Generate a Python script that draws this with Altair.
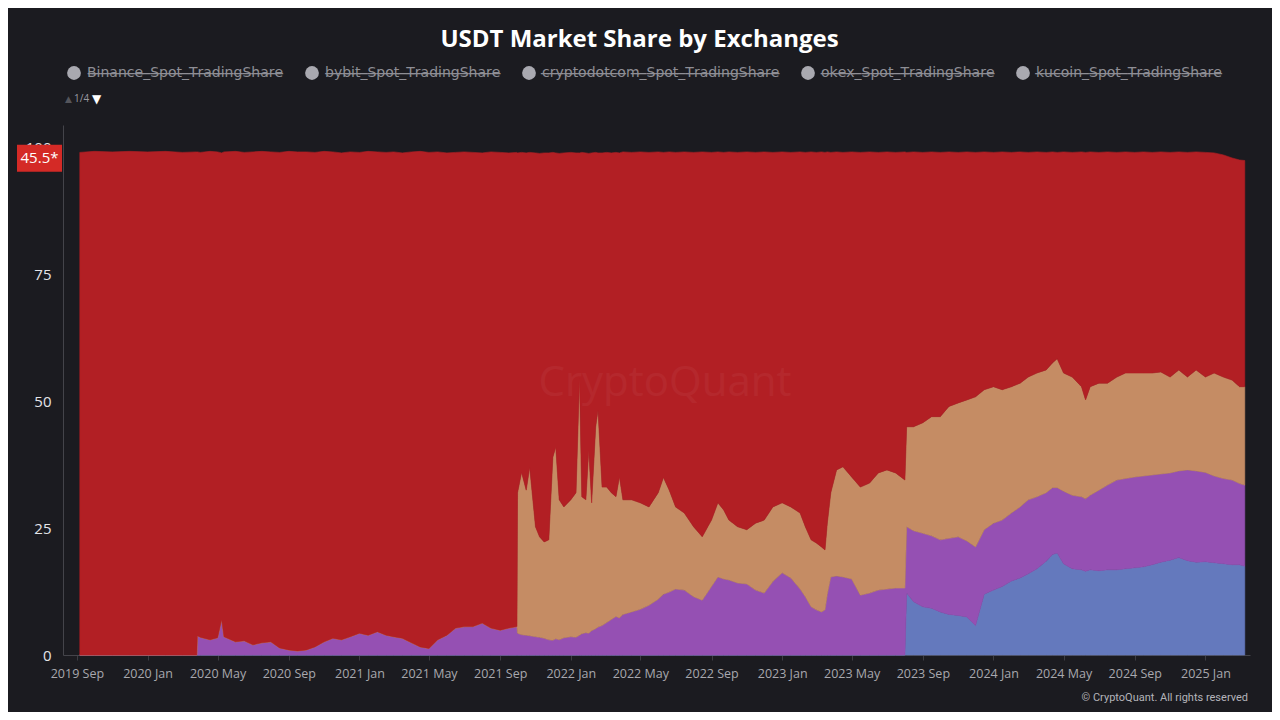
import altair as alt
import pandas as pd

# ---- data (stack boundaries, % share) ----
dates = [
    # only Binance (red)
    "2019-09-06", "2019-10-01", "2019-11-01", "2019-12-01", "2020-01-01", "2020-02-01", "2020-03-01", "2020-03-26",
    # purple layer appears
    "2020-03-27", "2020-04-01", "2020-04-18", "2020-05-01", "2020-05-08", "2020-05-12", "2020-06-01", "2020-06-16",
    "2020-07-01", "2020-07-16", "2020-08-01", "2020-08-16", "2020-09-01", "2020-09-16", "2020-10-01", "2020-10-16",
    "2020-11-01", "2020-11-16", "2020-12-01", "2020-12-16",
    "2021-01-01", "2021-01-16", "2021-02-01", "2021-02-16", "2021-03-01", "2021-03-16", "2021-04-01", "2021-04-16",
    "2021-05-01", "2021-05-16", "2021-06-01", "2021-06-16", "2021-07-01", "2021-07-16", "2021-08-01", "2021-08-16",
    "2021-09-01", "2021-09-16", "2021-09-30",
    # tan layer appears
    "2021-10-01", "2021-10-08", "2021-10-16", "2021-10-22", "2021-11-01", "2021-11-08", "2021-11-16", "2021-11-24",
    "2021-12-01", "2021-12-06", "2021-12-12", "2021-12-20",
    "2022-01-01", "2022-01-10", "2022-01-16", "2022-01-20", "2022-01-27", "2022-02-01", "2022-02-06", "2022-02-13",
    "2022-02-17", "2022-02-24", "2022-03-04", "2022-03-12", "2022-03-20", "2022-03-26", "2022-04-01", "2022-04-16",
    "2022-05-01", "2022-05-16", "2022-06-01", "2022-06-10", "2022-06-20", "2022-07-01", "2022-07-16", "2022-08-01",
    "2022-08-16", "2022-09-01", "2022-09-12", "2022-09-22", "2022-10-01", "2022-10-16", "2022-11-01", "2022-11-16",
    "2022-12-01", "2022-12-16",
    "2023-01-01", "2023-01-16", "2023-02-01", "2023-02-10", "2023-02-20", "2023-03-01", "2023-03-10", "2023-03-16",
    "2023-03-20", "2023-03-26", "2023-04-05", "2023-04-16", "2023-05-01", "2023-05-16", "2023-06-01", "2023-06-16",
    "2023-07-01", "2023-07-16", "2023-08-01",
    # blue layer appears
    "2023-08-04", "2023-08-16", "2023-09-01", "2023-09-16", "2023-10-01", "2023-10-16", "2023-11-01", "2023-11-16",
    "2023-12-01", "2023-12-16",
    "2024-01-01", "2024-01-16", "2024-02-01", "2024-02-16", "2024-03-01", "2024-03-16", "2024-04-01", "2024-04-12",
    "2024-04-20", "2024-05-01", "2024-05-16", "2024-06-01", "2024-06-08", "2024-06-16", "2024-07-01", "2024-07-16",
    "2024-08-01", "2024-08-16", "2024-09-01", "2024-09-16", "2024-10-01", "2024-10-16", "2024-11-01", "2024-11-16",
    "2024-12-01", "2024-12-16",
    "2025-01-01", "2025-01-16", "2025-02-01", "2025-02-16", "2025-03-01", "2025-03-10",
]

# top of the whole stack
total_top = [
    99.1, 99.3, 99.2, 99.3, 99.2, 99.3, 99.1, 99.2,
    99.2, 99.1, 99.3, 99.2, 99.0, 99.2, 99.3, 99.1, 99.2, 99.3,
    99.2, 99.1, 99.3, 99.2, 99.2, 99.1, 99.3, 99.2, 99.0, 99.2,
    99.1, 99.3, 99.2, 99.1, 99.2, 99.0, 99.2, 99.3, 99.1, 99.2,
    99.0, 99.1, 99.2, 99.1, 99.0, 99.2, 99.1, 99.0, 99.1,
    99.0, 99.1, 99.0, 99.1, 99.0, 98.9, 99.0, 99.0, 99.1, 99.0, 98.9, 99.0,
    99.1, 99.0, 99.0, 99.1, 99.0, 98.9, 99.0, 99.1, 99.0, 99.0, 99.1, 99.0,
    99.1, 99.0, 99.2, 99.1, 99.2, 99.1, 99.2, 99.1, 99.2, 99.1, 99.2, 99.1,
    99.2, 99.1, 99.2, 99.1, 99.2, 99.1, 99.2, 99.1, 99.2, 99.1,
    99.2, 99.1, 99.2, 99.1, 99.2, 99.1, 99.2, 99.1, 99.2, 99.1, 99.2, 99.1,
    99.2, 99.1, 99.2, 99.1, 99.2, 99.1, 99.2,
    99.1, 99.2, 99.1, 99.2, 99.1, 99.2, 99.1, 99.2, 99.1, 99.2,
    99.1, 99.2, 99.1, 99.2, 99.1, 99.2, 99.1, 99.2, 99.1, 99.2, 99.1, 99.2,
    99.1, 99.2, 99.1, 99.2, 99.1, 99.2, 99.1, 99.2, 99.1, 99.2, 99.1, 99.2,
    99.1, 99.2,
    99.1, 99.0, 98.6, 98.0, 97.6, 97.5,
]

# top of the purple layer (from 2020-03-27)
purple_top = [
    3.8, 3.5, 3.0, 3.4, 7.0, 3.6, 2.6, 2.8, 2.0, 2.4,
    2.6, 1.4, 1.0, 0.8, 1.0, 1.6, 2.6, 3.3, 3.0, 3.6,
    4.3, 3.9, 4.6, 3.9, 3.6, 3.3, 2.4, 1.6, 1.3, 3.0,
    3.9, 5.3, 5.6, 5.6, 6.3, 5.3, 4.9, 5.3, 5.6,
    4.3, 4.0, 3.9, 3.8, 3.6, 3.5, 3.3, 3.0, 2.9, 3.2, 3.0, 3.4,
    3.6, 3.5, 3.9, 4.2, 4.4, 4.3, 4.8, 5.2, 5.5, 5.8, 6.4, 7.0,
    7.6, 7.3, 8.0, 8.5, 9.0, 9.8, 11.0, 12.0, 12.4, 13.0, 12.8, 11.5,
    10.8, 13.5, 15.4, 15.0, 14.8, 14.2, 14.0, 12.8, 12.2, 14.5,
    16.2, 15.2, 13.0, 11.5, 9.5, 8.9, 8.5, 8.9, 12.0, 15.4, 15.6, 15.4,
    15.0, 11.8, 12.2, 12.8, 13.0, 13.2, 13.2,
    25.3, 24.5, 24.0, 23.5, 22.7, 23.0, 23.3, 22.5, 21.3, 24.7,
    26.0, 26.6, 28.0, 29.2, 30.6, 31.2, 32.0, 33.0, 33.0, 32.3, 31.5, 31.2,
    30.8, 31.5, 32.5, 33.5, 34.5, 34.8, 35.1, 35.3, 35.5, 35.7, 35.9, 36.3,
    36.5, 36.3,
    36.0, 35.3, 34.8, 34.5, 33.8, 33.5,
]

# top of the tan layer (from 2021-10-01)
tan_top = [
    32.0, 36.0, 32.5, 37.0, 25.3, 23.3, 22.3, 22.7, 39.0, 41.0, 30.6, 29.2,
    30.6, 32.0, 54.6, 31.2, 30.6, 40.4, 30.0, 45.0, 48.3, 33.1, 33.1, 32.0,
    31.2, 35.1, 30.6, 30.6, 30.0, 29.2, 32.0, 35.0, 32.5, 29.2, 28.0, 25.3,
    23.3, 26.6, 30.0, 28.6, 26.6, 25.3, 24.7, 26.0, 26.6, 29.2,
    30.0, 29.2, 28.0, 25.3, 22.7, 22.1, 21.3, 20.7, 26.0, 32.0, 36.5, 37.1,
    35.1, 33.1, 33.9, 35.9, 36.5, 35.9, 34.5,
    45.0, 45.0, 45.8, 47.0, 47.0, 49.0, 49.7, 50.3, 50.9, 52.3,
    52.9, 52.3, 52.9, 53.6, 54.8, 55.6, 56.2, 57.6, 58.4, 55.6, 54.8, 52.9,
    50.3, 52.9, 53.6, 53.6, 54.8, 55.6, 55.6, 55.6, 55.6, 55.8, 54.8, 56.2,
    54.8, 56.2,
    54.8, 55.6, 54.8, 54.2, 52.9, 52.9,
]

# top of the blue layer (from 2023-08-04)
blue_top = [
    12.2, 10.5, 9.5, 9.2, 8.5, 8.0, 7.8, 7.5, 5.8, 12.0,
    12.8, 13.5, 14.6, 15.2, 16.0, 17.0, 18.5, 19.8, 20.1, 18.0, 17.0, 16.8,
    16.5, 16.8, 16.6, 16.8, 16.8, 17.0, 17.2, 17.4, 17.8, 18.3, 18.7, 19.2,
    18.6, 18.3,
    18.4, 18.2, 18.0, 17.8, 17.8, 17.5,
]

layer_names = ["bybit_Spot_TradingShare", "okex_Spot_TradingShare",
               "cryptodotcom_Spot_TradingShare", "Binance_Spot_TradingShare"]
layer_colors = ["#6479bd", "#9550b3", "#c58c64", "#b21f24"]

legend_names = ["Binance_Spot_TradingShare", "bybit_Spot_TradingShare",
                "cryptodotcom_Spot_TradingShare", "okex_Spot_TradingShare",
                "kucoin_Spot_TradingShare"]

tick_dates = [(2019, 9), (2020, 1), (2020, 5), (2020, 9), (2021, 1), (2021, 5), (2021, 9),
              (2022, 1), (2022, 5), (2022, 9), (2023, 1), (2023, 5), (2023, 9),
              (2024, 1), (2024, 5), (2024, 9), (2025, 1)]

# ---- build table ----
n = len(dates)
assert len(total_top) == n and len(purple_top) == 146 and len(tan_top) == 107 and len(blue_top) == 42, \
    (n, len(total_top), len(purple_top), len(tan_top), len(blue_top))


def pad(v):
    return pd.Series([None] * (n - len(v)) + list(v), dtype=float)


b = pad(blue_top).fillna(0.0)
p = pad(purple_top).fillna(b)
t = pad(tan_top).fillna(p)
tot = pd.Series(total_top, dtype=float)
d = pd.to_datetime(pd.Series(dates))

parts = []
for name, lo, hi in [(layer_names[0], pd.Series([0.0] * n), b),
                     (layer_names[1], b, p),
                     (layer_names[2], p, t),
                     (layer_names[3], t, tot)]:
    parts.append(pd.DataFrame({"date": d, "layer": name, "lo": lo, "hi": hi}))
long = pd.concat(parts, ignore_index=True)

FONT = "Open Sans"
BG = "#1b1b20"

x_scale = alt.Scale(domain=[alt.DateTime(year=2019, month=8, date=8),
                            alt.DateTime(year=2025, month=3, date=19)])
y_scale = alt.Scale(domain=[0, 104.5], nice=False, zero=True)

color_scale = alt.Scale(domain=layer_names, range=layer_colors)

area = alt.Chart(long).mark_area(interpolate="linear", strokeWidth=0.6).encode(
    x=alt.X("date:T", scale=x_scale, title=None,
            axis=alt.Axis(values=[alt.DateTime(year=yy, month=mm, date=1) for yy, mm in tick_dates],
                          format="%Y %b", labelAngle=0, labelColor="#a8a8ae", labelFontSize=12.5,
                          labelFont=FONT, tickColor="#3c3c42", tickSize=5, labelPadding=7,
                          domainColor="#44444a", grid=False, labelOverlap=False)),
    y=alt.Y("hi:Q", scale=y_scale, title=None,
            axis=alt.Axis(values=[0, 25, 50, 75, 100], labelColor="#e4e4e8", labelFontSize=15,
                          labelFont=FONT, ticks=False, tickSize=0, labelPadding=12,
                          domainColor="#44444a", grid=False)),
    y2="lo:Q",
    color=alt.Color("layer:N", scale=color_scale, legend=None),
    stroke=alt.Stroke("layer:N", scale=color_scale, legend=None),
)

# legend (all series shown as switched off, like the reference)
struck = ["".join(ch + "\u0336" for ch in s) for s in legend_names]
legend_layer = alt.Chart(pd.DataFrame({"name": struck})).mark_point(filled=True).encode(
    fill=alt.Fill("name:N", scale=alt.Scale(domain=struck, range=["#a9a9b0"] * 5),
                  legend=alt.Legend(orient="none", legendX=4, legendY=-59, direction="horizontal",
                                    title=None, symbolType="circle", symbolSize=190,
                                    symbolStrokeWidth=0, symbolOpacity=1,
                                    labelColor="#8e8e95", labelFontSize=14, labelFont="DejaVu Sans",
                                    labelOffset=6, columnPadding=21, labelLimit=400)),
).transform_filter("false")

one = pd.DataFrame({"k": [0]})

badge = alt.Chart(one).mark_rect(color="#d42a26").encode(
    x=alt.value(-46), x2=alt.value(-1), y=alt.datum(100.6), y2=alt.datum(95.3))
badge_text = alt.Chart(one).mark_text(text="45.5*", color="#ffffff", fontSize=15, font=FONT,
                                       align="center", baseline="middle").encode(
    x=alt.value(-23.5), y=alt.datum(97.95))

watermark = alt.Chart(one).mark_text(text="CryptoQuant", color="#ffffff", opacity=0.04,
                                     fontSize=42, font=FONT,
                                     align="center", baseline="middle").encode(
    x=alt.value(602), y=alt.value(258))

copyright_text = alt.Chart(one).mark_text(text="© CryptoQuant. All rights reserved", color="#b4b4ba",
                                          fontSize=11, font="Roboto", align="right",
                                          baseline="middle").encode(
    x=alt.value(1185), y=alt.value(573))

pager = alt.Chart(one).mark_text(text="▲", color="#55555b", fontSize=9, font="DejaVu Sans",
                                 align="left", baseline="middle").encode(
    x=alt.value(2), y=alt.value(-26))
pager1 = alt.Chart(one).mark_text(text="1/4", color="#9a9aa0", fontSize=10, font=FONT,
                                  align="left", baseline="middle").encode(
    x=alt.value(11), y=alt.value(-26))
pager2 = alt.Chart(one).mark_text(text="▼", color="#ffffff", fontSize=12, font="DejaVu Sans",
                                  align="left", baseline="middle").encode(
    x=alt.value(29), y=alt.value(-26))

chart = alt.layer(area, legend_layer, badge, badge_text, watermark, copyright_text,
                  pager, pager1, pager2).properties(
    width=1187, height=530,
    title=alt.TitleParams("USDT Market Share by Exchanges", fontSize=24, font=FONT, fontWeight="bold",
                          color="#ffffff", anchor="middle", frame="group", offset=14, dx=-17),
    autosize=alt.AutoSizeParams(type="none"),
    padding={"left": 55, "top": 117, "right": 22, "bottom": 57},
    background=BG,
).configure_view(strokeWidth=0).resolve_scale(fill="independent")

chart.save("out.html", embed_options={"renderer": "svg", "actions": False})
